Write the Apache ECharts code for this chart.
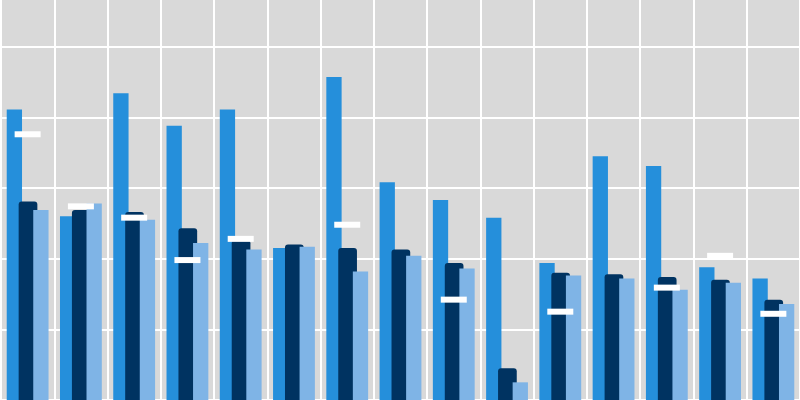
<!DOCTYPE html>
<html>
<head>
<meta charset="utf-8">
<script src="https://cdn.jsdelivr.net/npm/echarts@6/dist/echarts.min.js"></script>
<style>
html,body{margin:0;padding:0;background:#d9d9d9;}
#chart{width:800px;height:400px;}
</style>
</head>
<body>
<div id="chart"></div>
<script>
const categories = ['1','2','3','4','5','6','7','8','9','10','11','12','13','14','15'];
const seriesA = [41.1, 26.0, 43.4, 38.8, 41.1, 21.5, 45.7, 30.8, 28.3, 25.8, 19.4, 34.5, 33.1, 18.8, 17.2];
const seriesB = [28.1, 26.9, 26.6, 24.3, 22.6, 22.0, 21.5, 21.3, 19.4, 4.5, 18.0, 17.8, 17.4, 17.0, 14.2];
const seriesC = [26.9, 27.8, 25.5, 22.2, 21.3, 21.7, 18.2, 20.4, 18.6, 2.5, 17.6, 17.2, 15.6, 16.6, 13.6];
const markers = [37.6, 27.4, 25.8, 19.8, 22.8, null, 24.8, null, 14.2, null, 12.5, null, 15.9, 20.4, 12.2];

const chart = echarts.init(document.getElementById('chart'));
chart.setOption({
  backgroundColor: '#d9d9d9',
  animation: false,
  grid: { left: 1, right: 0, top: 0, bottom: 0, containLabel: false },
  xAxis: {
    type: 'category',
    data: categories,
    boundaryGap: true,
    axisLine: { show: false },
    axisTick: { show: false },
    axisLabel: { show: false },
    splitLine: { show: true, lineStyle: { color: '#ffffff', width: 2 } }
  },
  yAxis: {
    type: 'value',
    min: 0, max: 56.6, interval: 10,
    axisLine: { show: false },
    axisTick: { show: false },
    axisLabel: { show: false },
    splitLine: { show: true, showMaxLine: false, lineStyle: { color: '#ffffff', width: 2 } }
  },
  series: [
    { type: 'bar', data: seriesA, barWidth: 15.3, barGap: '-22%',
      itemStyle: { color: '#258fdb' } },
    { type: 'bar', data: seriesB, barWidth: 18.7, barGap: '-22%',
      itemStyle: { color: '#003361', borderRadius: [3, 3, 0, 0] } },
    { type: 'bar', data: seriesC, barWidth: 15.3, barGap: '-22%',
      itemStyle: { color: '#7fb4e6' } },
    { type: 'scatter', data: markers, symbol: 'rect', symbolSize: [26, 6], z: 10,
      itemStyle: { color: '#ffffff', opacity: 1 } }
  ]
});
</script>
</body>
</html>
